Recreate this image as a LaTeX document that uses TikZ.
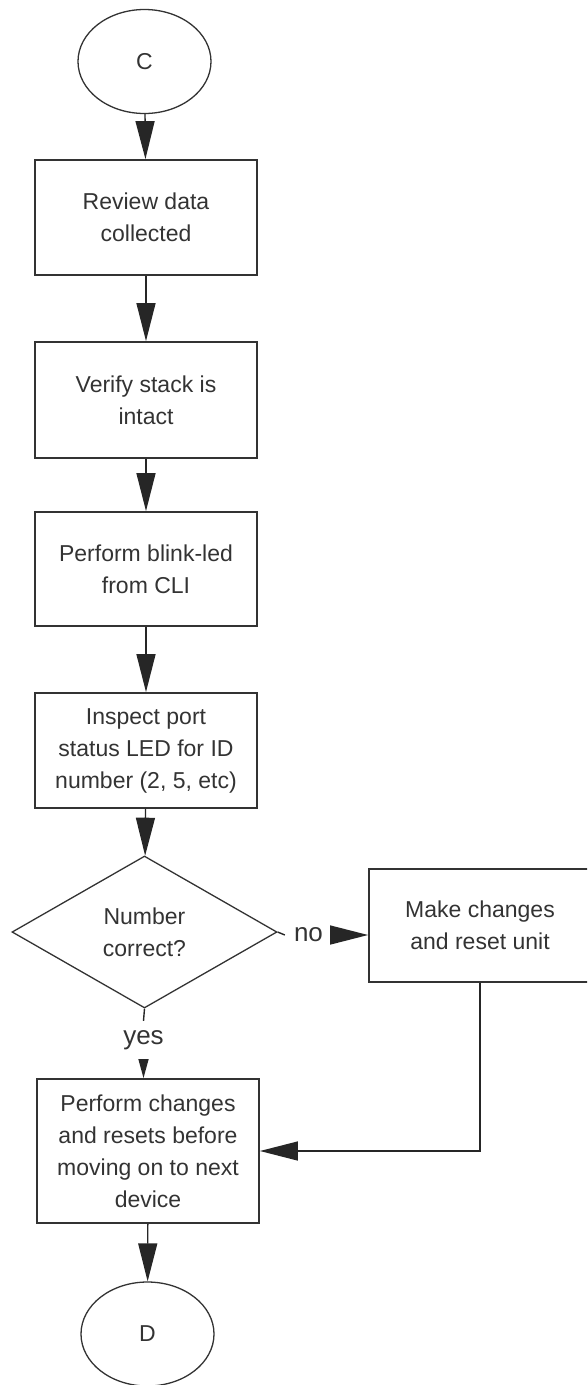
\documentclass[tikz,border=0pt]{standalone}
\usepackage{fontspec}
\setmainfont{Liberation Sans}
\usetikzlibrary{arrows.meta,shapes.geometric}
\begin{document}
\begin{tikzpicture}[x=1pt,y=-1pt,
  every node/.style={text=black!80},
  txt/.style={font=\fontsize{23}{32}\selectfont, align=center},
  lbl/.style={font=\fontsize{26}{30}\selectfont},
  procbox/.style={draw=black!80, line width=1.8pt, rectangle, inner sep=0pt, minimum width=222pt, txt},
  term/.style={draw=black!80, line width=1.3pt, ellipse, inner sep=0pt, minimum width=133pt, minimum height=104pt, txt},
  decision/.style={draw=black!80, line width=1.3pt, diamond, inner sep=0pt, minimum width=265pt, minimum height=152pt, txt},
  conn/.style={draw=black!85, line width=1.4pt},
  arr/.style={conn, -{Triangle[length=38pt,width=19pt]}},
  sarr/.style={conn, -{Triangle[length=19pt,width=10pt]}}
]
\useasboundingbox (0,0) rectangle (587,1385);
\clip (0,0) rectangle (587,1385);

\node[term] (c) at (144.5,61.5) {C};
\node[procbox, minimum height=115pt] (b1) at (146,217.5) {Review data\\collected};
\node[procbox, minimum height=116pt] (b2) at (146,400) {Verify stack is\\intact};
\node[procbox, minimum height=114pt] (b3) at (146,569) {Perform blink-led\\from CLI};
\node[procbox, minimum height=115pt] (b4) at (146,750.5) {Inspect port\\status LED for ID\\number (2, 5, etc)};
\node[decision] (d) at (144.5,932) {Number\\correct?};
\node[procbox, minimum height=113pt] (b5) at (480,925.5) {Make changes\\and reset unit};
\node[procbox, minimum height=144pt] (b6) at (148,1151) {Perform changes\\and resets before\\moving on to next\\device};
\node[term] (dd) at (147.5,1334) {D};

\node[lbl, inner sep=0pt, minimum width=47pt] (no) at (308.5,935) {no};
\node[lbl, inner sep=0pt, minimum height=39pt] (yes) at (143.5,1040.5) {yes};

\draw[arr] (c) -- (b1);
\draw[arr] (b1) -- (b2);
\draw[arr] (b2) -- (b3);
\draw[arr] (b3) -- (b4);
\draw[arr] (b4) -- (d);
\draw[arr] (b6) -- (dd);
\draw[conn] (d.east) -- (no.west);
\draw[arr] (no.east) -- (no.east -| b5.west);
\draw[conn] (d.south) -- (yes.north);
\draw[sarr] (yes.south) -- (yes.south |- b6.north);
\draw[arr] (b5.south) |- (b6.east);
\end{tikzpicture}
\end{document}
